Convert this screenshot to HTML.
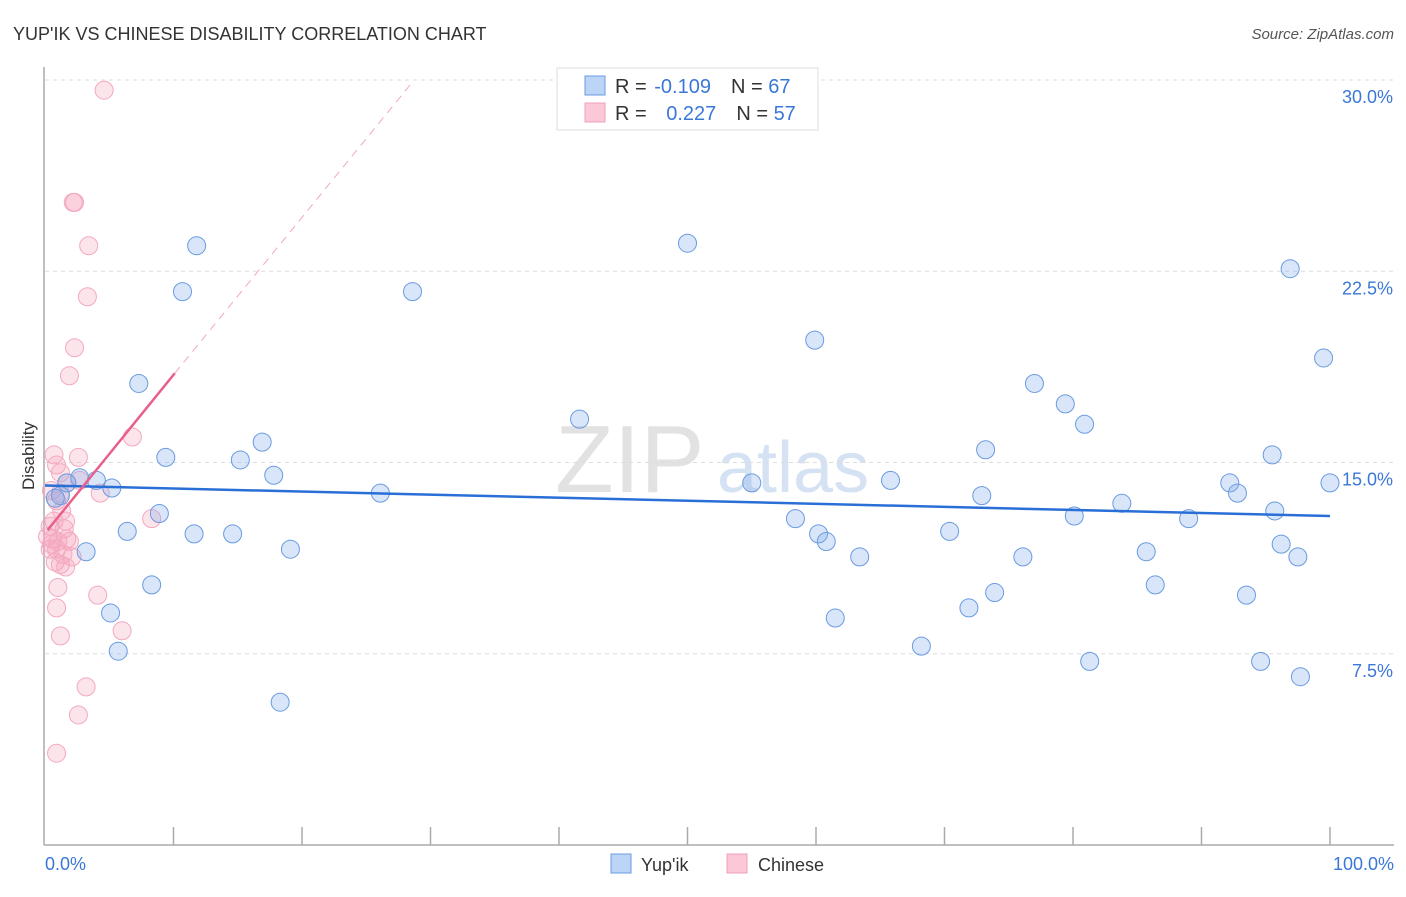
<!DOCTYPE html>
<html><head><meta charset="utf-8"><style>
body{margin:0;background:#fff;font-family:"Liberation Sans",sans-serif}
svg text{font-family:"Liberation Sans",sans-serif}
</style></head><body>
<svg id="chart" width="1406" height="892" viewBox="0 0 1406 892" xmlns="http://www.w3.org/2000/svg">
<text x="13" y="40" font-size="18" fill="#333">YUP'IK VS CHINESE DISABILITY CORRELATION CHART</text>
<text x="1394" y="39" font-size="15" fill="#555" text-anchor="end" font-style="italic">Source: ZipAtlas.com</text>
<g>
<text x="555" y="492" font-size="96" fill="#e2e2e2" font-family="Liberation Serif,serif">ZIP</text>
<text x="717" y="492" font-size="72" fill="#d4e2f4">atlas</text>
</g>
<g id="grid"></g>
<g id="axes"></g>
<g id="pts"></g>
<g id="trends"></g>
<text transform="translate(34,456) rotate(-90)" font-size="17" fill="#333" text-anchor="middle">Disability</text>
<text x="45" y="870" font-size="18" fill="#3a78d8">0.0%</text>
<text x="1394" y="870" font-size="18" fill="#3a78d8" text-anchor="end">100.0%</text>
<g>
<rect x="557" y="68" width="261" height="62" fill="#fff" stroke="#ddd"/>
<rect x="585" y="76" width="20" height="19" fill="#bcd4f6" stroke="#6a9be0"/>
<rect x="585" y="103" width="20" height="19" fill="#fcc8d8" stroke="#f0a0b8"/>
<text x="615" y="93" font-size="20" fill="#333">R = <tspan fill="#3a78d8" dx="2">-0.109</tspan><tspan dx="20">N = </tspan><tspan fill="#3a78d8">67</tspan></text>
<text x="615" y="120" font-size="20" fill="#333">R = <tspan fill="#3a78d8" dx="14">0.227</tspan><tspan dx="20">N = </tspan><tspan fill="#3a78d8">57</tspan></text>
</g>
<g>
<rect x="611" y="854" width="20" height="19" fill="#bcd4f6" stroke="#6a9be0"/>
<text x="641" y="871" font-size="18" fill="#333">Yup'ik</text>
<rect x="727" y="854" width="20" height="19" fill="#fcc8d8" stroke="#f0a0b8"/>
<text x="758" y="871" font-size="18" fill="#333">Chinese</text>
</g>
</svg>
<script>
const yTicks=[7.5,15,22.5,30];
const yTickLabels=["7.5%","15.0%","22.5%","30.0%"];
const xTicks=[10,20,30,40,50,60,70,80,90,100];
const yupikX=[11.8,10.7,7.3,28.6,50.0,59.9,96.9,99.5,77.0,79.4,80.9,73.2,95.5,41.6,16.9,9.4,15.2,17.8,55.0,65.8,92.2,92.8,100,72.9,26.1,5.2,4.0,2.7,1.7,1.2,0.8,8.9,6.4,11.6,14.6,58.4,60.2,60.8,70.4,80.1,83.8,89.0,95.7,96.2,97.5,85.7,76.1,63.4,19.1,3.2,8.3,5.1,86.4,73.9,71.9,93.5,61.5,68.2,5.7,81.3,94.6,97.7,18.3];
const yupikY=[23.5,21.7,18.1,21.7,23.6,19.8,22.6,19.1,18.1,17.3,16.5,15.5,15.3,16.7,15.8,15.2,15.1,14.5,14.2,14.3,14.2,13.8,14.2,13.7,13.8,14.0,14.3,14.4,14.2,13.7,13.6,13.0,12.3,12.2,12.2,12.8,12.2,11.9,12.3,12.9,13.4,12.8,13.1,11.8,11.3,11.5,11.3,11.3,11.6,11.5,10.2,9.1,10.2,9.9,9.3,9.8,8.9,7.8,7.6,7.2,7.2,6.6,5.6];
const chineseX=[4.6,2.2,2.3,3.4,3.3,2.3,1.9,6.8,2.6,0.7,0.9,1.2,1.7,4.3,0.5,0.9,1.2,1.3,0.7,1.6,0.4,1.5,0.6,1.0,1.7,1.9,0.4,0.9,1.4,2.1,0.8,1.2,1.6,8.3,1.0,4.1,0.9,6.0,1.2,3.2,2.6,0.9,2.7,0.2,0.5];
const chineseY=[29.6,25.2,25.2,23.5,21.5,19.5,18.4,16.0,15.2,15.3,14.9,14.6,14.2,13.8,13.9,13.5,13.8,13.1,12.7,12.7,12.5,12.4,12.0,11.9,12.0,11.9,11.6,11.6,11.4,11.3,11.1,11.0,10.9,12.8,10.1,9.8,9.3,8.4,8.2,6.2,5.1,3.6,14.3,12.1,11.8];
const yupikTrendX=[0,100];
const yupikTrendY=[14.1,12.9];
const chineseTrendX=[0.2,10.1];
const chineseTrendY=[12.35,18.5];
const chineseDashX=[10.1,28.4];
const chineseDashY=[18.5,29.8];

const NS="http://www.w3.org/2000/svg";
const X0=45,X1=1330,Y0=845,PPY=25.5;
const sx=v=>X0+(X1-X0)*v/100;
const sy=v=>Y0-v*PPY;
function mk(t,a,p){const e=document.createElementNS(NS,t);for(const k in a)e.setAttribute(k,a[k]);p.appendChild(e);return e;}
const grid=document.getElementById('grid'),axes=document.getElementById('axes'),pts=document.getElementById('pts'),tr=document.getElementById('trends');
yTicks.forEach((t,i)=>{
 const l=mk('line',{x1:X0,x2:1394,y1:sy(t),y2:sy(t),stroke:'#ddd','stroke-dasharray':'4,4'},grid);
 
 
 const tx=mk('text',{x:1393,y:sy(t)+23,'font-size':18,fill:'#3a78d8','text-anchor':'end'},axes);
 tx.textContent=yTickLabels[i];
 
 
});
const ya=mk('line',{x1:44,x2:44,y1:67,y2:Y0,stroke:'#aaa','stroke-width':1.5},axes);


const xa=mk('line',{x1:44,x2:1394,y1:Y0,y2:Y0,stroke:'#aaa','stroke-width':1.5},axes);


xTicks.forEach(t=>{
 const l=mk('line',{x1:sx(t),x2:sx(t),y1:Y0,y2:Y0-18,stroke:'#aaa','stroke-width':1.5},axes);
 
 
});
function series(xs,ys,fill,stroke,name){
 xs.forEach((x,i)=>{
  const c=mk('circle',{cx:sx(x),cy:sy(ys[i]),r:9,fill:fill,stroke:stroke,'stroke-width':1},pts);
  
  
 });
}
series(chineseX,chineseY,'rgba(246,165,190,0.3)','#f3a9c0','chinese-point');
series(yupikX,yupikY,'rgba(130,172,236,0.3)','#6a9be0','yupik-point');
const t1=mk('line',{x1:sx(yupikTrendX[0]),y1:sy(yupikTrendY[0]),x2:sx(yupikTrendX[1]),y2:sy(yupikTrendY[1]),stroke:'#2a6fd6','stroke-width':2.5},tr);


const t2=mk('line',{x1:sx(chineseTrendX[0]),y1:sy(chineseTrendY[0]),x2:sx(chineseTrendX[1]),y2:sy(chineseTrendY[1]),stroke:'#e8608a','stroke-width':2.5},tr);


const t3=mk('line',{x1:sx(chineseDashX[0]),y1:sy(chineseDashY[0]),x2:sx(chineseDashX[1]),y2:sy(chineseDashY[1]),stroke:'#f0a8bf','stroke-width':1,'stroke-dasharray':'8,6'},tr);


</script>
</body></html>
